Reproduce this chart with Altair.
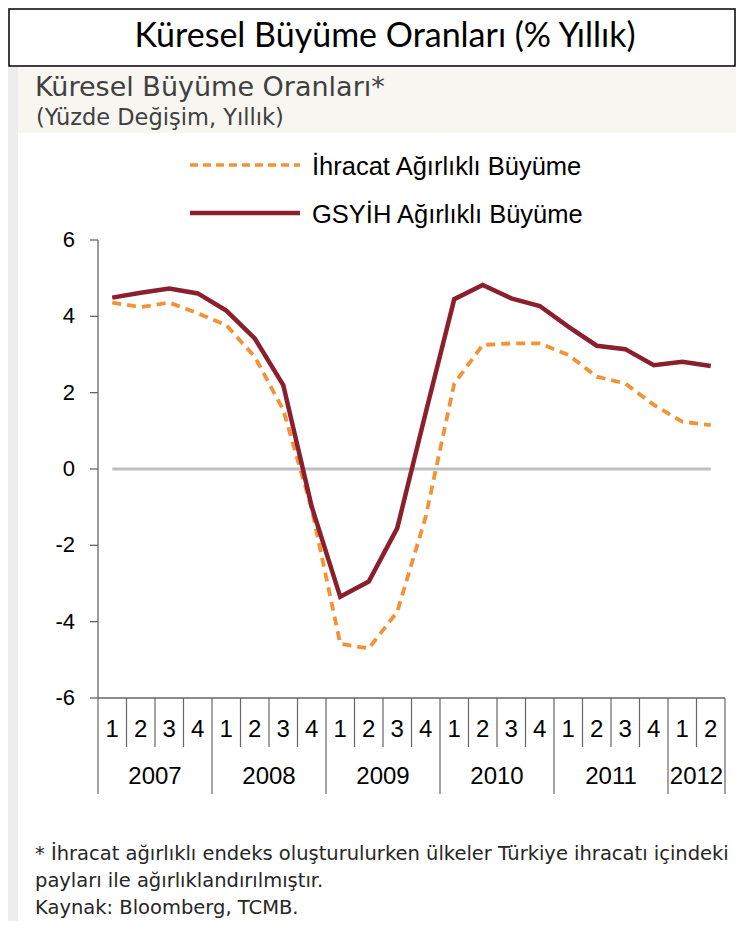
import altair as alt
import pandas as pd

# ---- data ----
quarters = ["1", "2", "3", "4"] * 5 + ["1", "2"]
years = ["2007", "2008", "2009", "2010", "2011", "2012"]
year_quarters = [4, 4, 4, 4, 4, 2]
ihracat = [4.36, 4.24, 4.36, 4.08, 3.77, 2.94, 1.55, -1.05, -4.58, -4.70, -3.74,
           -1.25, 2.24, 3.25, 3.29, 3.29, 2.99, 2.42, 2.24, 1.68, 1.24, 1.15]
gsyih = [4.49, 4.62, 4.73, 4.60, 4.15, 3.42, 2.20, -0.99, -3.35, -2.95, -1.55,
         1.48, 4.45, 4.82, 4.47, 4.27, 3.73, 3.23, 3.14, 2.72, 2.81, 2.70]
y_ticks = [6, 4, 2, 0, -2, -4, -6]
series_names = ["İhracat Ağırlıklı Büyüme", "GSYİH Ağırlıklı Büyüme"]
header = "Küresel Büyüme Oranları (% Yıllık)"
title = "Küresel Büyüme Oranları*"
subtitle = "(Yüzde Değişim, Yıllık)"
footnotes = [
    "* İhracat ağırlıklı endeks oluşturulurken ülkeler Türkiye ihracatı içindeki",
    "payları ile ağırlıklandırılmıştır.",
    "Kaynak: Bloomberg, TCMB.",
]

W, H = 627, 458
ORANGE = "#F39237"
MAROON = "#8B1F2E"
AX = "#666666"
ARIAL = "Liberation Sans"
GOTHIC = "DejaVu Sans"

n = len(quarters)
xs = alt.Scale(domain=[0, n], nice=False, zero=False)
ys = alt.Scale(domain=[-6, 6], nice=False, zero=False)

df_line = pd.DataFrame({"x": [i + 0.5 for i in range(n)], "ihr": ihracat, "gsy": gsyih,
                        "q": quarters})
bounds = [0]
for c in year_quarters:
    bounds.append(bounds[-1] + c)
df_years = pd.DataFrame({"x": [(bounds[i] + bounds[i + 1]) / 2 for i in range(len(years))],
                         "year": years})
df_qsep = pd.DataFrame({"k": [k for k in range(n + 1) if k not in bounds]})
df_ysep = pd.DataFrame({"k": bounds})
df_ticks = pd.DataFrame({"v": y_ticks, "lab": [str(v) for v in y_ticks]})
one = pd.DataFrame({"a": [0]})

X = lambda f: alt.X(f, scale=xs, axis=None)
Y = lambda f: alt.Y(f, scale=ys, axis=None)

layers = []

# decorations: side strip, title band, header box
layers.append(alt.Chart(one).mark_rect(fill="#ededed").encode(
    x=alt.value(-90), x2=alt.value(-80), y=alt.value(-173), y2=alt.value(H + 223)))
layers.append(alt.Chart(one).mark_rect(fill="#f7f6f1").encode(
    x=alt.value(-80), x2=alt.value(W + 11), y=alt.value(-172), y2=alt.value(-107)))
layers.append(alt.Chart(one).mark_rect(fill="white", stroke="black", strokeWidth=1.5).encode(
    x=alt.value(-89), x2=alt.value(637), y=alt.value(-231), y2=alt.value(-174)))
layers.append(alt.Chart(one).mark_text(text=header, font="Lato", fontSize=34, color="black",
                                       align="center", baseline="alphabetic").encode(
    x=alt.value(287), y=alt.value(-193)))
layers.append(alt.Chart(one).mark_text(text=title, font=GOTHIC, fontSize=27, color="#404040",
                                       align="left", baseline="alphabetic").encode(
    x=alt.value(-63), y=alt.value(-144)))
layers.append(alt.Chart(one).mark_text(text=subtitle, font=GOTHIC, fontSize=22.5, color="#404040",
                                       align="left", baseline="alphabetic").encode(
    x=alt.value(-62), y=alt.value(-115)))

# legend
layers.append(alt.Chart(one).mark_rule(color=ORANGE, strokeWidth=3.5, strokeDash=[8, 5]).encode(
    x=alt.value(92), x2=alt.value(202), y=alt.value(-75)))
layers.append(alt.Chart(one).mark_rule(color=MAROON, strokeWidth=4.5).encode(
    x=alt.value(92), x2=alt.value(202), y=alt.value(-27)))
layers.append(alt.Chart(one).mark_text(text=series_names[0], font=ARIAL, fontSize=25.5,
                                       align="left", baseline="alphabetic", color="black").encode(
    x=alt.value(214), y=alt.value(-65)))
layers.append(alt.Chart(one).mark_text(text=series_names[1], font=ARIAL, fontSize=25.5,
                                       align="left", baseline="alphabetic", color="black").encode(
    x=alt.value(214), y=alt.value(-17)))

# y axis
layers.append(alt.Chart(pd.DataFrame({"a": [-6], "b": [6]})).mark_rule(color=AX, strokeWidth=1.3).encode(
    x=alt.value(0), y=Y("a:Q"), y2="b:Q"))
layers.append(alt.Chart(df_ticks).mark_rule(color=AX, strokeWidth=1.3).encode(
    x=alt.value(-8), x2=alt.value(0), y=Y("v:Q")))
layers.append(alt.Chart(df_ticks).mark_text(font=ARIAL, fontSize=22, align="right",
                                            baseline="middle", color="black").encode(
    x=alt.value(-23), y=Y("v:Q"), text="lab:N"))

# zero line
layers.append(alt.Chart(pd.DataFrame({"a": [0.5], "b": [n - 0.5], "z": [0]})).mark_rule(
    color="#bfbfbf", strokeWidth=3).encode(x=X("a:Q"), x2="b:Q", y=Y("z:Q")))

# x axis
layers.append(alt.Chart(pd.DataFrame({"a": [0], "b": [n]})).mark_rule(color=AX, strokeWidth=1.3).encode(
    x=X("a:Q"), x2="b:Q", y=alt.value(H)))
layers.append(alt.Chart(df_qsep).mark_rule(color=AX, strokeWidth=1.2).encode(
    x=X("k:Q"), y=alt.value(H), y2=alt.value(H + 49)))
layers.append(alt.Chart(df_ysep).mark_rule(color=AX, strokeWidth=1.2).encode(
    x=X("k:Q"), y=alt.value(H), y2=alt.value(H + 96)))
layers.append(alt.Chart(df_line).mark_text(font=ARIAL, fontSize=24, color="black",
                                           baseline="middle").encode(
    x=X("x:Q"), y=alt.value(H + 32), text="q:N"))
layers.append(alt.Chart(df_years).mark_text(font=ARIAL, fontSize=24, color="black",
                                            baseline="middle").encode(
    x=X("x:Q"), y=alt.value(H + 79), text="year:N"))

# series
layers.append(alt.Chart(df_line).mark_line(color=ORANGE, strokeWidth=3.8, strokeDash=[9, 6]).encode(
    x=X("x:Q"), y=Y("ihr:Q")))
layers.append(alt.Chart(df_line).mark_line(color=MAROON, strokeWidth=4.5).encode(
    x=X("x:Q"), y=Y("gsy:Q")))

# footnotes
for i, t in enumerate(footnotes):
    layers.append(alt.Chart(one).mark_text(text=t, font=GOTHIC, fontSize=19.5, color="#262626",
                                           align="left", baseline="alphabetic").encode(
        x=alt.value(-63), y=alt.value(620 + 27 * i)))

chart = alt.layer(*layers).properties(
    width=W, height=H,
    padding={"left": 90, "top": 232, "right": 11, "bottom": 223},
    autosize=alt.AutoSizeParams(type="none"),
    background="white",
).configure_view(stroke=None)

chart.save("out.html", embed_options={"renderer": "svg", "actions": False})
